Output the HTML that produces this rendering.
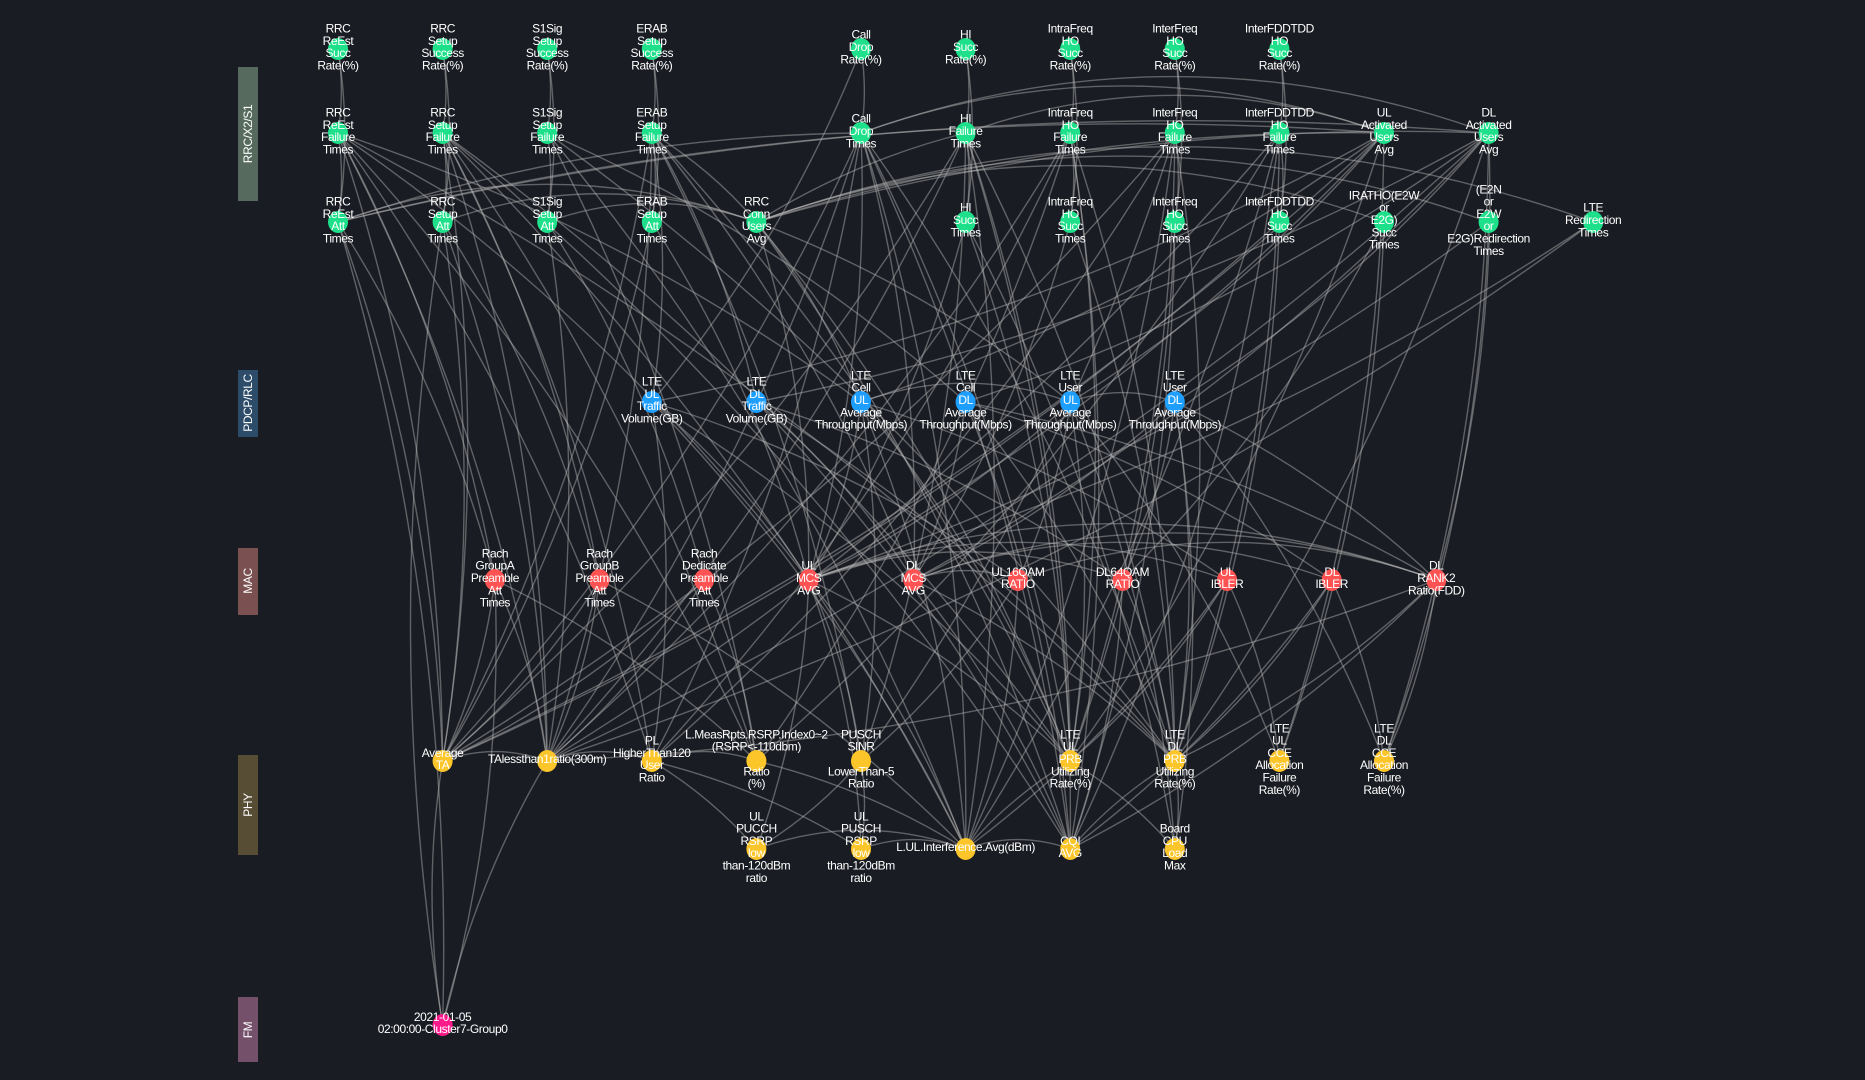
<!DOCTYPE html>
<html><head><meta charset="utf-8"><style>
html,body{margin:0;padding:0;background:#1a1c23;width:1865px;height:1080px;overflow:hidden}
svg{display:block}
text{font-family:"Liberation Sans Narrow","Liberation Sans",sans-serif;fill:#fff;font-size:12px;letter-spacing:-0.4px}
</style></head><body>
<svg id="chart" width="1865" height="1080">
<g>
<rect x="238" y="67" width="20" height="134" fill="#566b5e"/>
<text transform="translate(252,134) rotate(-90)" text-anchor="middle" font-size="11">RRC/X2/S1</text>
<rect x="238" y="370" width="20" height="67" fill="#2d4c69"/>
<text transform="translate(252,403) rotate(-90)" text-anchor="middle" font-size="11">PDCP/RLC</text>
<rect x="238" y="548" width="20" height="67" fill="#7a5050"/>
<text transform="translate(252,581) rotate(-90)" text-anchor="middle" font-size="11">MAC</text>
<rect x="238" y="755" width="20" height="100" fill="#574d35"/>
<text transform="translate(252,805) rotate(-90)" text-anchor="middle" font-size="11">PHY</text>
<rect x="238" y="997" width="20" height="65" fill="#74506a"/>
<text transform="translate(252,1030) rotate(-90)" text-anchor="middle" font-size="11">FM</text>
</g>
<g id="edges"></g>
<g id="nodes"></g>
</svg>
<script>
const rowKeys = ["r1","r2","r3","pd","mac","p1","p2","fm"];
const rowPos = {r1:49,r2:133,r3:222,pd:402,mac:580,p1:761,p2:849,fm:1025};
const catColors = {rrc:"#1fe08a",pd:"#1e9fff",mac:"#ff5353",phy:"#fcc52a",fm:"#ff1a8c"};
const nodeIds = ["rrcReEstSR","rrcSetupSR","s1SR","erabSR","cdRate","hiSR","intraSR","interSR","fddSR",
"rrcReEstF","rrcSetupF","s1F","erabF","cdT","hiF","intraF","interF","fddF","ulAct","dlAct",
"rrcReEstA","rrcSetupA","s1A","erabA","rrcConn","hiS","intraS","interS","fddS","irat","redir","lteRedir",
"ulVol","dlVol","cellUL","cellDL","userUL","userDL",
"rachA","rachB","rachD","ulMcs","dlMcs","ul16","dl64","ulIbler","dlIbler","rank2",
"avgTA","taLess","pl","lmeas","sinr","ulPrb","dlPrb","ulCce","dlCce",
"pucch","pusch","ulInt","cqi","cpu","fm"];
const nodeRows = ["r1","r1","r1","r1","r1","r1","r1","r1","r1",
"r2","r2","r2","r2","r2","r2","r2","r2","r2","r2","r2",
"r3","r3","r3","r3","r3","r3","r3","r3","r3","r3","r3","r3",
"pd","pd","pd","pd","pd","pd",
"mac","mac","mac","mac","mac","mac","mac","mac","mac","mac",
"p1","p1","p1","p1","p1","p1","p1","p1","p1",
"p2","p2","p2","p2","p2","fm"];
const nodeCols = [0,1,2,3,5,6,7,8,9,
0,1,2,3,5,6,7,8,9,10,11,
0,1,2,3,4,6,7,8,9,10,11,12,
3,4,5,6,7,8,
1.5,2.5,3.5,4.5,5.5,6.5,7.5,8.5,9.5,10.5,
1,2,3,4,5,7,8,9,10,
4,5,6,7,8,1];
const nodeCats = nodeRows.map(r => r==="pd"?"pd":r==="mac"?"mac":(r==="p1"||r==="p2")?"phy":r==="fm"?"fm":"rrc");
const nodeLabels = ["RRC|ReEst|Succ|Rate(%)","RRC|Setup|Success|Rate(%)","S1Sig|Setup|Success|Rate(%)","ERAB|Setup|Success|Rate(%)","Call|Drop|Rate(%)","HI|Succ|Rate(%)","IntraFreq|HO|Succ|Rate(%)","InterFreq|HO|Succ|Rate(%)","InterFDDTDD|HO|Succ|Rate(%)",
"RRC|ReEst|Failure|Times","RRC|Setup|Failure|Times","S1Sig|Setup|Failure|Times","ERAB|Setup|Failure|Times","Call|Drop|Times","HI|Failure|Times","IntraFreq|HO|Failure|Times","InterFreq|HO|Failure|Times","InterFDDTDD|HO|Failure|Times","UL|Activated|Users|Avg","DL|Activated|Users|Avg",
"RRC|ReEst|Att|Times","RRC|Setup|Att|Times","S1Sig|Setup|Att|Times","ERAB|Setup|Att|Times","RRC|Conn|Users|Avg","HI|Succ|Times","IntraFreq|HO|Succ|Times","InterFreq|HO|Succ|Times","InterFDDTDD|HO|Succ|Times","IRATHO(E2W|or|E2G)|Succ|Times","(E2N|or|E2W|or|E2G)Redirection|Times","LTE|Redirection|Times",
"LTE|UL|Traffic|Volume(GB)","LTE|DL|Traffic|Volume(GB)","LTE|Cell|UL|Average|Throughput(Mbps)","LTE|Cell|DL|Average|Throughput(Mbps)","LTE|User|UL|Average|Throughput(Mbps)","LTE|User|DL|Average|Throughput(Mbps)",
"Rach|GroupA|Preamble|Att|Times","Rach|GroupB|Preamble|Att|Times","Rach|Dedicate|Preamble|Att|Times","UL|MCS|AVG","DL|MCS|AVG","UL16QAM|RATIO","DL64QAM|RATIO","UL|IBLER","DL|IBLER","DL|RANK2|Ratio(FDD)",
"Average|TA","TAlessthan1ratio(300m)","PL|HigherThan120|User|Ratio","L.MeasRpts.RSRP.Index0~2|(RSRP<-110dbm)||Ratio|(%)","PUSCH|SINR||LowerThan-5|Ratio","LTE|UL|PRB|Utilizing|Rate(%)","LTE|DL|PRB|Utilizing|Rate(%)","LTE|UL|CCE|Allocation|Failure|Rate(%)","LTE|DL|CCE|Allocation|Failure|Rate(%)",
"UL|PUCCH|RSRP|low|than-120dBm|ratio","UL|PUSCH|RSRP|low|than-120dBm|ratio","L.UL.Interference.Avg(dBm)","CQI|AVG","Board|CPU|Load|Max","2021-01-05|02:00:00-Cluster7-Group0"];
const edgeList = ("rrcReEstSR-rrcReEstF rrcReEstF-rrcReEstA rrcReEstSR-rrcReEstA rrcSetupSR-rrcSetupF rrcSetupF-rrcSetupA rrcSetupSR-rrcSetupA "+
"s1SR-s1F s1F-s1A s1SR-s1A erabSR-erabF erabF-erabA erabSR-erabA hiSR-hiF hiF-hiS hiSR-hiS intraSR-intraF intraF-intraS intraSR-intraS "+
"interSR-interF interF-interS interSR-interS fddSR-fddF fddF-fddS fddSR-fddS cdRate-cdT cdRate-ulVol "+
"rrcReEstF-avgTA rrcReEstF-taLess rrcReEstF-pl rrcReEstF-lmeas rrcReEstF-ulMcs rrcReEstF-cellUL rrcReEstF-dlPrb rrcReEstF-rachA "+
"rrcSetupF-avgTA rrcSetupF-taLess rrcSetupF-pl rrcSetupF-lmeas rrcSetupF-ulPrb rrcSetupF-ulInt rrcSetupF-rachB rrcSetupF-cqi "+
"s1F-lmeas s1F-ulInt s1F-dlPrb s1F-cellDL erabF-avgTA erabF-taLess erabF-ulVol erabF-dlVol erabF-ulPrb erabF-dlMcs erabF-sinr erabF-rrcConn "+
"cdT-avgTA cdT-taLess cdT-pl cdT-ulPrb cdT-dlPrb cdT-cqi cdT-ulInt cdT-ulMcs cdT-dlMcs "+
"hiF-ulPrb hiF-dlPrb hiF-cqi hiF-ulInt hiF-avgTA hiF-taLess hiF-sinr intraF-pl intraF-lmeas intraF-ulPrb intraF-dlPrb intraF-cqi intraF-taLess "+
"interF-pl interF-sinr interF-ulPrb interF-dlPrb interF-avgTA interF-ulInt fddF-lmeas fddF-dlPrb fddF-cqi fddF-taLess fddF-ulInt "+
"ulAct-ulVol ulAct-cellUL ulAct-userUL ulAct-ulPrb ulAct-ulCce ulAct-ulMcs ulAct-avgTA dlAct-dlVol dlAct-cellDL dlAct-userDL dlAct-dlPrb dlAct-dlCce dlAct-dlMcs dlAct-taLess dlAct-rank2 "+
"rrcReEstA-cdT rrcReEstA-ulAct rrcReEstA-dlAct rrcSetupA-rrcConn rrcReEstA-rrcConn rrcConn-ulAct rrcConn-dlAct rrcConn-irat rrcConn-lteRedir rrcConn-hiF cdT-dlAct hiF-ulAct cdT-ulAct rrcConn-redir s1A-rrcConn "+
"rrcReEstA-fm rrcReEstA-avgTA rrcReEstA-rachA rrcSetupA-taLess rrcSetupA-rachB rrcSetupA-avgTA s1A-taLess s1A-rachD erabA-ulMcs erabA-avgTA "+
"rrcConn-ulMcs rrcConn-cellUL rrcConn-userUL rrcConn-ulPrb rrcConn-cqi hiS-ulPrb hiS-cpu hiS-ulMcs intraS-dlPrb intraS-dlMcs interS-cqi interS-ulPrb fddS-dlPrb fddS-avgTA irat-ulCce irat-dl64 redir-dlCce redir-ulMcs lteRedir-ulMcs lteRedir-taLess "+
"ulVol-ulMcs ulVol-ul16 ulVol-ulPrb ulVol-ulInt ulVol-pl dlVol-dlMcs dlVol-dl64 dlVol-dlPrb dlVol-cqi cellUL-ulMcs cellUL-ulIbler cellUL-ulPrb cellUL-sinr cellUL-ulInt "+
"cellDL-dlMcs cellDL-dlIbler cellDL-dlPrb cellDL-cqi cellDL-rank2 userUL-ulMcs userUL-ul16 userUL-ulPrb userUL-ulCce userUL-cpu userDL-dlMcs userDL-dl64 userDL-dlPrb userDL-dlCce userDL-rank2 userDL-cpu userUL-userDL cellUL-userUL "+
"ulMcs-rank2 ulMcs-ulIbler dlMcs-dlIbler dlMcs-rank2 ul16-rank2 ulMcs-dl64 dlMcs-ul16 ulMcs-ulInt ulMcs-sinr ulMcs-pucch ulMcs-pusch ulMcs-ulPrb dlMcs-cqi dlMcs-dlPrb ul16-ulInt ul16-sinr dl64-cqi dl64-dlPrb "+
"ulIbler-ulInt ulIbler-ulPrb ulIbler-ulCce dlIbler-cqi dlIbler-dlPrb dlIbler-dlCce rank2-cqi rank2-dlPrb rank2-dlCce rank2-taLess "+
"rachA-avgTA rachA-taLess rachA-fm rachA-lmeas rachB-avgTA rachB-taLess rachB-ulInt rachD-taLess rachD-lmeas rachD-avgTA "+
"avgTA-taLess taLess-pl pl-lmeas pl-pucch pl-pusch lmeas-ulInt sinr-pucch sinr-pusch pucch-ulInt pusch-ulInt ulInt-cqi ulInt-ulPrb ulPrb-cpu dlPrb-cpu cqi-dlPrb fm-avgTA fm-taLess fm-rrcSetupA").split(" ");

function xScale(c){return 338 + c*104.6;}
function yScale(r){return rowPos[r];}
const NS="http://www.w3.org/2000/svg";
const eg=document.getElementById("edges"), ng=document.getElementById("nodes");
function pos(id){const i=nodeIds.indexOf(id);return [xScale(nodeCols[i]),yScale(nodeRows[i])];}
edgeList.forEach(e=>{
  const [a,b]=e.split("-");const [x1,y1]=pos(a),[x2,y2]=pos(b);
  const cv = Math.abs(y1-y2)<5 ? 0.18 : 0.08;
  const cx=(x1+x2)/2-(y1-y2)*cv, cy=(y1+y2)/2-(x2-x1)*cv;
  const p=document.createElementNS(NS,"path");
  p.setAttribute("d",`M${x1},${y1} Q${cx},${cy} ${x2},${y2}`);
  p.setAttribute("fill","none");p.setAttribute("stroke","rgba(185,185,185,0.45)");p.setAttribute("stroke-width","1.4");
  
  
  eg.appendChild(p);
});
nodeIds.forEach((id,i)=>{
  const x=xScale(nodeCols[i]), y=yScale(nodeRows[i]);
  const g=document.createElementNS(NS,"g");
  
  
  const c=document.createElementNS(NS,"ellipse");
  c.setAttribute("cx",x);c.setAttribute("cy",y);c.setAttribute("rx",10);c.setAttribute("ry",11);
  c.setAttribute("fill",catColors[nodeCats[i]]);
  g.appendChild(c);
  const lines=nodeLabels[i].split("|");const lh=12.3;
  const y0=y-(lines.length-1)*lh/2+2;
  const t=document.createElementNS(NS,"text");t.setAttribute("text-anchor","middle");
  lines.forEach((l,k)=>{const s=document.createElementNS(NS,"tspan");s.setAttribute("x",x);s.setAttribute("y",y0+k*lh);s.textContent=l;t.appendChild(s);});
  g.appendChild(t);
  ng.appendChild(g);
});
</script>
</body></html>
